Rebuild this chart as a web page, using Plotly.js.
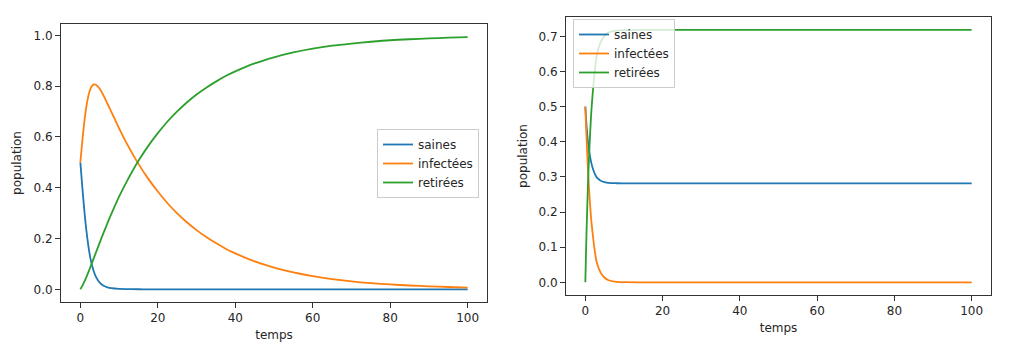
<!DOCTYPE html>
<html>
<head>
<meta charset="utf-8">
<script src="https://cdn.plot.ly/plotly-3.0.1.min.js"></script>
<style>
html,body{margin:0;padding:0;background:#fff;}
#chart{width:1013px;height:354px;}
</style>
</head>
<body>
<div id="chart"></div>
<script>
// ---- Left panel (slow recovery) ----
const tLeft = [0, 0.5, 1, 1.5, 2, 2.5, 3, 3.5, 4, 5, 6, 7, 8, 10, 12, 15, 17.5, 20, 22.5, 25, 27.5, 30, 32.5, 35, 37.5, 40, 45, 50, 55, 60, 65, 70, 75, 80, 85, 90, 95, 100];
const sainesLeft = [0.5, 0.403, 0.315, 0.239, 0.178, 0.130, 0.095, 0.069, 0.050, 0.026, 0.014, 0.0077, 0.0043, 0.0015, 0.0006, 0.0002, 0.0001, 0.0001, 0, 0, 0, 0, 0, 0, 0, 0, 0, 0, 0, 0, 0, 0, 0, 0, 0, 0, 0, 0];
const infecteesLeft = [0.5, 0.584, 0.656, 0.715, 0.757, 0.786, 0.801, 0.807, 0.806, 0.790, 0.763, 0.731, 0.699, 0.634, 0.574, 0.494, 0.436, 0.385, 0.339, 0.299, 0.264, 0.233, 0.206, 0.182, 0.160, 0.1415, 0.110, 0.0858, 0.0668, 0.052, 0.0405, 0.0316, 0.0246, 0.0191, 0.0149, 0.0116, 0.0090, 0.0070];
const retireesLeft = [0, 0.0135, 0.029, 0.046, 0.065, 0.084, 0.104, 0.124, 0.144, 0.184, 0.223, 0.261, 0.297, 0.365, 0.425, 0.506, 0.564, 0.615, 0.661, 0.701, 0.736, 0.767, 0.794, 0.818, 0.840, 0.8585, 0.890, 0.914, 0.933, 0.948, 0.9595, 0.968, 0.975, 0.981, 0.985, 0.988, 0.991, 0.993];

// ---- Right panel (fast recovery) ----
const tRight = [0, 0.25, 0.5, 0.75, 1, 1.5, 2, 2.5, 3, 4, 5, 6, 8, 10, 15, 20, 30, 40, 50, 60, 70, 80, 90, 100];
const sainesRight = [0.5, 0.456, 0.421, 0.394, 0.373, 0.342, 0.322, 0.308, 0.298, 0.289, 0.285, 0.283, 0.282, 0.2817, 0.2816, 0.2816, 0.2816, 0.2816, 0.2816, 0.2816, 0.2816, 0.2816, 0.2816, 0.2816];
const infecteesRight = [0.5, 0.429, 0.365, 0.307, 0.260, 0.182, 0.129, 0.085, 0.055, 0.027, 0.013, 0.006, 0.0016, 0.0004, 0, 0, 0, 0, 0, 0, 0, 0, 0, 0];
const retireesRight = [0, 0.115, 0.214, 0.299, 0.367, 0.476, 0.549, 0.607, 0.647, 0.684, 0.702, 0.711, 0.7165, 0.7177, 0.7184, 0.7184, 0.7184, 0.7184, 0.7184, 0.7184, 0.7184, 0.7184, 0.7184, 0.7184];

const seriesNames = ['saines', 'infectées', 'retirées'];
const seriesColors = ['#1f77b4', '#ff7f0e', '#2ca02c'];
const xTicks = [0, 20, 40, 60, 80, 100];
const yTicksLeft = [0, 0.2, 0.4, 0.6, 0.8, 1.0];
const yTicksRight = [0, 0.1, 0.2, 0.3, 0.4, 0.5, 0.6, 0.7];

const W = 1013, H = 354;
const FONT = 'DejaVu Sans, sans-serif';
const TXT = '#262626';

function mkTrace(x, y, i, xa, ya, lg) {
  return {
    x: x, y: y, type: 'scatter', mode: 'lines',
    name: seriesNames[i],
    line: {color: seriesColors[i], width: 1.8, shape: 'spline', smoothing: 0.8},
    xaxis: xa, yaxis: ya, legend: lg, hoverinfo: 'skip'
  };
}

const data = [
  mkTrace(tLeft, sainesLeft, 0, 'x', 'y', 'legend'),
  mkTrace(tLeft, infecteesLeft, 1, 'x', 'y', 'legend'),
  mkTrace(tLeft, retireesLeft, 2, 'x', 'y', 'legend'),
  mkTrace(tRight, sainesRight, 0, 'x2', 'y2', 'legend2'),
  mkTrace(tRight, infecteesRight, 1, 'x2', 'y2', 'legend2'),
  mkTrace(tRight, retireesRight, 2, 'x2', 'y2', 'legend2')
];

function axisBase() {
  return {
    showgrid: false, zeroline: false,
    showline: true, mirror: true, linecolor: '#333', linewidth: 1,
    ticks: 'outside', ticklen: 5, tickwidth: 1, tickcolor: '#333',
    tickfont: {family: FONT, size: 12, color: TXT},
    automargin: false, fixedrange: true
  };
}

const layout = {
  width: W, height: H,
  margin: {l: 0, r: 0, t: 0, b: 0},
  paper_bgcolor: '#fff', plot_bgcolor: '#fff',
  font: {family: FONT, size: 12, color: TXT},
  showlegend: true,
  xaxis: Object.assign(axisBase(), {
    domain: [61 / W, 487 / W], range: [-5, 105],
    tickvals: xTicks, ticktext: xTicks.map(String),
    anchor: 'y',
    title: {text: 'temps', font: {family: FONT, size: 12, color: TXT}, standoff: 6}
  }),
  yaxis: Object.assign(axisBase(), {
    domain: [1 - 302 / H, 1 - 24 / H], range: [-0.05, 1.045],
    tickvals: yTicksLeft, ticktext: yTicksLeft.map(v => v.toFixed(1)),
    anchor: 'x',
    title: {text: 'population', font: {family: FONT, size: 12, color: TXT}, standoff: 9}
  }),
  xaxis2: Object.assign(axisBase(), {
    domain: [566 / W, 991 / W], range: [-5, 105],
    tickvals: xTicks, ticktext: xTicks.map(String),
    anchor: 'y2',
    title: {text: 'temps', font: {family: FONT, size: 12, color: TXT}, standoff: 6}
  }),
  yaxis2: Object.assign(axisBase(), {
    domain: [1 - 295 / H, 1 - 17 / H], range: [-0.036, 0.755],
    tickvals: yTicksRight, ticktext: yTicksRight.map(v => v.toFixed(1)),
    anchor: 'x2',
    title: {text: 'population', font: {family: FONT, size: 12, color: TXT}, standoff: 8}
  }),
  legend: {
    x: 377 / W, y: 1 - 129 / H, xanchor: 'left', yanchor: 'top',
    bgcolor: 'rgba(255,255,255,0.8)', bordercolor: '#ccc', borderwidth: 1,
    font: {family: FONT, size: 12, color: TXT}, tracegroupgap: 0, itemwidth: 30
  },
  legend2: {
    x: 573 / W, y: 1 - 19 / H, xanchor: 'left', yanchor: 'top',
    bgcolor: 'rgba(255,255,255,0.8)', bordercolor: '#ccc', borderwidth: 1,
    font: {family: FONT, size: 12, color: TXT}, tracegroupgap: 0, itemwidth: 30
  }
};

Plotly.newPlot('chart', data, layout, {displayModeBar: false, staticPlot: true});
</script>
</body>
</html>
